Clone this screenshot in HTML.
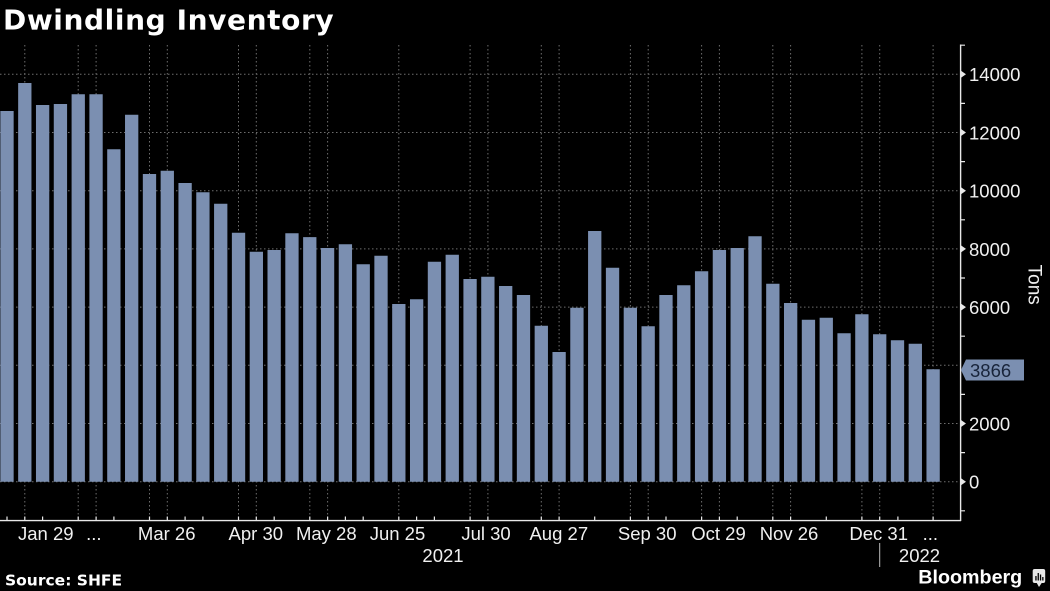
<!DOCTYPE html>
<html>
<head>
<meta charset="utf-8">
<style>
html,body{margin:0;padding:0;background:#000;}
svg{display:block;}
</style>
</head>
<body>
<svg width="1050" height="591" viewBox="0 0 1050 591" xmlns="http://www.w3.org/2000/svg">
<rect width="1050" height="591" fill="#000"/>
<text x="3" y="29.5" font-family="DejaVu Sans, Verdana, sans-serif" font-weight="bold" font-size="28" letter-spacing="0.6" fill="#fff">Dwindling Inventory</text>
<path stroke="#6e6e6e" stroke-width="1" stroke-dasharray="1.5 2.5" fill="none" d="M0 481.7H960M0 423.5H960M0 365.3H960M0 307.1H960M0 248.9H960M0 190.7H960M0 132.5H960M0 74.3H960
M24.8 45V520M78.2 45V520M96.1 45V520M149.5 45V520M167.3 45V520M238.5 45V520M256.3 45V520M309.8 45V520M327.6 45V520M398.8 45V520M470.1 45V520M487.9 45V520M541.3 45V520M559.1 45V520M630.4 45V520M648.2 45V520M701.6 45V520M719.4 45V520M772.8 45V520M790.6 45V520M861.9 45V520M879.7 45V520M933.1 45V520"/>
<path fill="#7b8fb1" d="M0.35 111h13.3V481.7h-13.3z
M18.16 83h13.3V481.7h-13.3z
M35.97 105h13.3V481.7h-13.3z
M53.78 104h13.3V481.7h-13.3z
M71.59 94.3h13.3V481.7h-13.3z
M89.4 94.3h13.3V481.7h-13.3z
M107.21 149.3h13.3V481.7h-13.3z
M125.02 114.7h13.3V481.7h-13.3z
M142.83 174h13.3V481.7h-13.3z
M160.64 170.7h13.3V481.7h-13.3z
M178.45 183h13.3V481.7h-13.3z
M196.26 192.3h13.3V481.7h-13.3z
M214.07 203.7h13.3V481.7h-13.3z
M231.88 232.7h13.3V481.7h-13.3z
M249.69 251.7h13.3V481.7h-13.3z
M267.5 250h13.3V481.7h-13.3z
M285.31 233.3h13.3V481.7h-13.3z
M303.12 237.1h13.3V481.7h-13.3z
M320.93 248h13.3V481.7h-13.3z
M338.74 244.3h13.3V481.7h-13.3z
M356.55 264.3h13.3V481.7h-13.3z
M374.36 255.7h13.3V481.7h-13.3z
M392.17 304h13.3V481.7h-13.3z
M409.98 299.3h13.3V481.7h-13.3z
M427.79 261.7h13.3V481.7h-13.3z
M445.6 254.7h13.3V481.7h-13.3z
M463.41 279h13.3V481.7h-13.3z
M481.22 276.7h13.3V481.7h-13.3z
M499.03 286h13.3V481.7h-13.3z
M516.84 295h13.3V481.7h-13.3z
M534.65 325.7h13.3V481.7h-13.3z
M552.46 352h13.3V481.7h-13.3z
M570.27 307.7h13.3V481.7h-13.3z
M588.08 231h13.3V481.7h-13.3z
M605.89 267.7h13.3V481.7h-13.3z
M623.7 307.7h13.3V481.7h-13.3z
M641.51 326.3h13.3V481.7h-13.3z
M659.32 295h13.3V481.7h-13.3z
M677.13 285.3h13.3V481.7h-13.3z
M694.94 271.3h13.3V481.7h-13.3z
M712.75 250h13.3V481.7h-13.3z
M730.56 248h13.3V481.7h-13.3z
M748.37 236.3h13.3V481.7h-13.3z
M766.18 283.7h13.3V481.7h-13.3z
M783.99 303h13.3V481.7h-13.3z
M801.8 319.7h13.3V481.7h-13.3z
M819.61 317.7h13.3V481.7h-13.3z
M837.42 333.3h13.3V481.7h-13.3z
M855.23 314.3h13.3V481.7h-13.3z
M873.04 334.3h13.3V481.7h-13.3z
M890.85 340.3h13.3V481.7h-13.3z
M908.66 343.7h13.3V481.7h-13.3z
M926.47 369.2h13.3V481.7h-13.3z"/>
<path stroke="#e8e8e8" stroke-width="1.4" fill="none" d="M960.6 44.5V521M0 520.6H961"/>
<path stroke="#e8e8e8" stroke-width="1.2" fill="none" d="M961 45.2h4M961 103.4h4M961 161.6h4M961 219.8h4M961 278h4M961 336.2h4M961 394.4h4M961 452.6h4M961 510.8h4
M7 516.5v4M24.8 516.5v4M42.6 516.5v4M78.2 516.5v4M96.1 516.5v4M113.9 516.5v4M149.5 516.5v4M167.3 516.5v4M185.1 516.5v4M202.9 516.5v4M238.5 516.5v4M256.3 516.5v4M274.2 516.5v4M309.8 516.5v4M327.6 516.5v4M345.4 516.5v4M363.2 516.5v4M398.8 516.5v4M416.6 516.5v4M434.4 516.5v4M470.1 516.5v4M487.9 516.5v4M541.3 516.5v4M559.1 516.5v4M594.7 516.5v4M630.4 516.5v4M648.2 516.5v4M666 516.5v4M701.6 516.5v4M719.4 516.5v4M737.2 516.5v4M772.8 516.5v4M790.6 516.5v4M826.3 516.5v4M861.9 516.5v4M879.7 516.5v4M897.9 516.5v4M933.1 516.5v4"/>
<path fill="#e8e8e8" d="M961 70.8l5 3.5l-5 3.5zM961 129l5 3.5l-5 3.5zM961 187.2l5 3.5l-5 3.5zM961 245.4l5 3.5l-5 3.5zM961 303.6l5 3.5l-5 3.5zM961 420l5 3.5l-5 3.5zM961 478.2l5 3.5l-5 3.5z"/>
<g font-family="Liberation Sans, sans-serif" font-size="18.5" fill="#f0f0f0">
<text x="969" y="81.2">14000</text>
<text x="969" y="139.4">12000</text>
<text x="969" y="197.6">10000</text>
<text x="969" y="255.8">8000</text>
<text x="969" y="314">6000</text>
<text x="969" y="430.4">2000</text>
<text x="969" y="488.6">0</text>
</g>
<path fill="#7b8fb1" d="M961 370L966 359.5H1024V380.5H966z"/>
<text x="970" y="377" font-family="Liberation Sans, sans-serif" font-size="18.5" fill="#18243a">3866</text>
<text x="1028.5" y="284.7" transform="rotate(90 1028.5 284.7)" text-anchor="middle" font-family="Liberation Sans, sans-serif" font-size="19" fill="#f0f0f0">Tons</text>
<g font-family="Liberation Sans, sans-serif" font-size="18.5" fill="#f0f0f0" text-anchor="middle">
<text x="45.8" y="540">Jan 29</text>
<text x="93.8" y="540">...</text>
<text x="166.7" y="540">Mar 26</text>
<text x="255.8" y="540">Apr 30</text>
<text x="326.3" y="540">May 28</text>
<text x="397.5" y="540">Jun 25</text>
<text x="486" y="540">Jul 30</text>
<text x="558.8" y="540">Aug 27</text>
<text x="647.2" y="540">Sep 30</text>
<text x="718.5" y="540">Oct 29</text>
<text x="789" y="540">Nov 26</text>
<text x="878.7" y="540">Dec 31</text>
<text x="930.3" y="540">...</text>
<text x="443" y="562">2021</text>
<text x="919.5" y="562">2022</text>
</g>
<path stroke="#bdbdbd" stroke-width="1" d="M879.7 543V567"/>
<text x="5" y="585.3" font-family="DejaVu Sans, Verdana, sans-serif" font-weight="bold" font-size="15.5" fill="#fff">Source: SHFE</text>
<text x="918.3" y="583.3" font-family="Liberation Sans, sans-serif" font-weight="bold" font-size="19.7" fill="#fff">Bloomberg</text>
<rect x="1032.7" y="569" width="12.5" height="14" rx="2" fill="#e8e8e8"/>
<path fill="#e8e8e8" d="M1036.5 582.5H1042L1039 587z"/>
<path fill="#000" d="M1035.3 576h1.3v4.5h-1.3zM1037.6 573h1.3v7.5h-1.3zM1039.9 574.5h1.3v6h-1.3zM1042.2 577h1.3v3.5h-1.3z"/>
</svg>
</body>
</html>
